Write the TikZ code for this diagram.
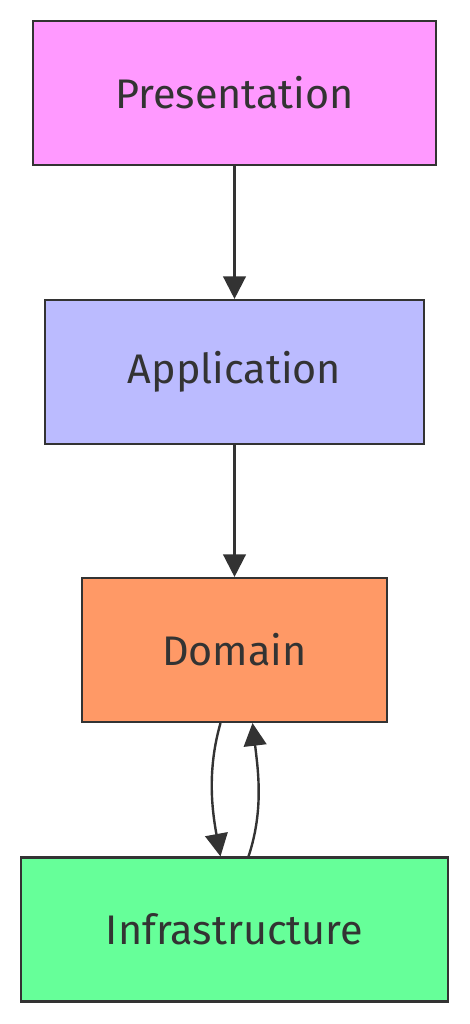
\documentclass[tikz,border=0pt]{standalone}
\usepackage{fontspec}
\setmainfont{Fira Sans}
\usetikzlibrary{arrows.meta}
\definecolor{edge}{HTML}{333333}
\definecolor{presfill}{HTML}{FF99FF}
\definecolor{appfill}{HTML}{BBBBFF}
\definecolor{domfill}{HTML}{FF9966}
\definecolor{infrafill}{HTML}{66FF99}
\tikzset{
  layer/.style={draw=edge, line width=1.6pt, text=edge, minimum height=144*0.75pt, inner sep=0pt,
    font=\fontsize{31}{36}\selectfont},
  conn/.style={draw=edge, line width=1.8pt, -{Triangle[length=17pt,width=17pt]}},
}
\begin{document}
\begin{tikzpicture}[x=0.75pt,y=-0.75pt]
\useasboundingbox (0,0) rectangle (470,1024);
\node[layer, fill=presfill, minimum width=403*0.75pt] (pres) at (234.5,93) {Presentation};
\node[layer, fill=appfill, minimum width=379*0.75pt] (app) at (234.5,372) {Application};
\node[layer, fill=domfill, minimum width=305*0.75pt] (dom) at (234.5,650) {Domain};
\node[layer, fill=infrafill, minimum width=427*0.75pt] (infra) at (234.5,929.5) {Infrastructure};
\draw[conn] (pres.south) -- (app.north);
\draw[conn] (app.south) -- (dom.north);
\draw[conn] ([xshift=-14*0.75pt]dom.south) .. controls (207,770) and (212,810) .. ([xshift=-14*0.75pt]infra.north);
\draw[conn] ([xshift=14*0.75pt]infra.north) .. controls (264,810) and (258,770) .. ([xshift=18*0.75pt]dom.south);
\end{tikzpicture}
\end{document}
